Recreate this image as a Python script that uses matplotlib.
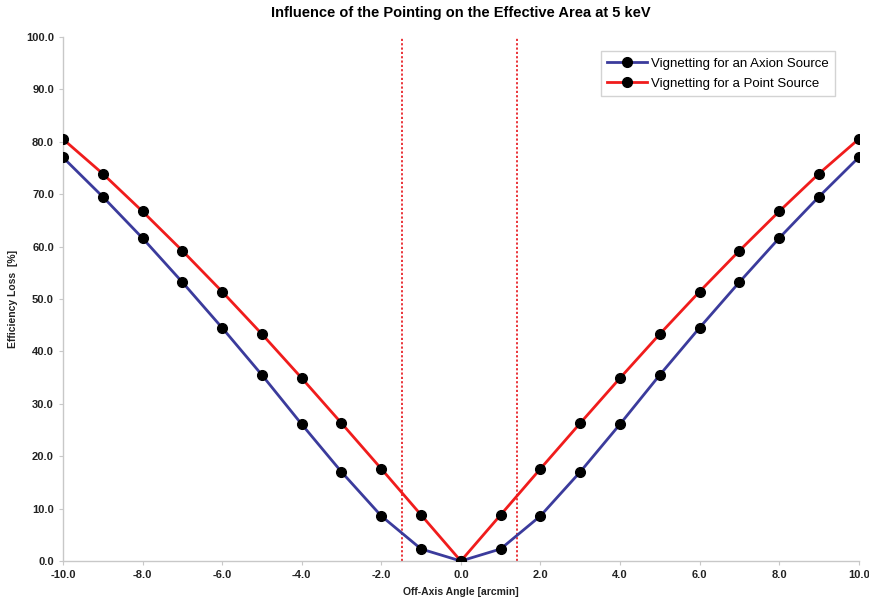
import matplotlib.pyplot as plt
from matplotlib.ticker import FormatStrFormatter, MultipleLocator

# datos
angle = [-10, -9, -8, -7, -6, -5, -4, -3, -2, -1, 0, 1, 2, 3, 4, 5, 6, 7, 8, 9, 10]
half_axion = [2.3, 8.6, 17.0, 26.1, 35.5, 44.5, 53.2, 61.6, 69.5, 77.0]
half_point = [8.8, 17.6, 26.3, 34.9, 43.3, 51.4, 59.2, 66.7, 73.9, 80.5]
axion_loss = half_axion[::-1] + [0.0] + half_axion
point_loss = half_point[::-1] + [0.0] + half_point
fov_limits = [-1.47, 1.42]

plt.rcParams['font.family'] = ['Liberation Sans', 'DejaVu Sans']

fig = plt.figure(figsize=(8.7, 6.05), dpi=100)
ax = fig.add_axes([0.0724, 0.0727, 0.9146, 0.8663])

for x in fov_limits:
    ax.axvline(x, color='#e8242a', linestyle=(0, (1.2, 1.2)), linewidth=1.3, zorder=1)

ax.plot(angle, axion_loss, color='#3b3b9c', linewidth=2, marker='o', markersize=7,
        markerfacecolor='black', markeredgecolor='black', label='Vignetting for an Axion Source', zorder=3)
ax.plot(angle, point_loss, color='#f01c1c', linewidth=2, marker='o', markersize=7,
        markerfacecolor='black', markeredgecolor='black', label='Vignetting for a Point Source', zorder=3)

ax.set_xlim(-10, 10)
ax.set_ylim(0, 100)
ax.xaxis.set_major_locator(MultipleLocator(2))
ax.yaxis.set_major_locator(MultipleLocator(10))
ax.xaxis.set_major_formatter(FormatStrFormatter('%.1f'))
ax.yaxis.set_major_formatter(FormatStrFormatter('%.1f'))

for side in ['top', 'right']:
    ax.spines[side].set_visible(False)
for side in ['left', 'bottom']:
    ax.spines[side].set_color('#c8c8c8')
    ax.spines[side].set_linewidth(1)
ax.set_axisbelow(True)
ax.tick_params(colors='#c8c8c8', labelcolor='#222222', labelsize=8, length=3)
for lab in ax.get_xticklabels() + ax.get_yticklabels():
    lab.set_fontweight('bold')

ax.set_xlabel('Off-Axis Angle [arcmin]', fontsize=7.5, fontweight='bold', labelpad=5, color='#222222')
ax.set_ylabel('Efficiency Loss  [%]', fontsize=7.5, fontweight='bold', labelpad=6, color='#222222')
ax.set_title('Influence of the Pointing on the Effective Area at 5 keV', fontsize=10.5,
             fontweight='bold', pad=14)

leg = ax.legend(loc='upper right', bbox_to_anchor=(0.978, 0.985), fontsize=9.5, frameon=True,
                fancybox=False, borderpad=0.45, handlelength=3, handletextpad=0.3, labelspacing=0.6)
leg.get_frame().set_edgecolor('#c8c8c8')
leg.get_frame().set_linewidth(1)

fig.savefig('out.png', dpi=100)
